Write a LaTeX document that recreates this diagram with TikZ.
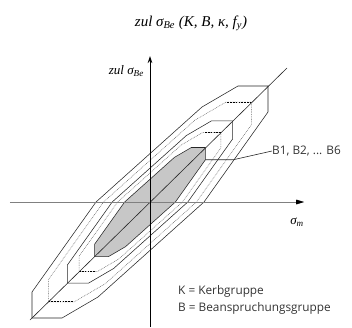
\documentclass[tikz,border=0pt]{standalone}
\usepackage{fontspec}
\setmainfont{Liberation Serif}
\newfontfamily\labelsans{Open Sans}
\usetikzlibrary{arrows.meta}
\tikzset{
  oct/.pic={\path[pic actions] (118,116) -- (118,90) -- (54,0) -- (-52,-95) -- (-88,-116) -- (-118,-116) -- (-118,-90) -- (-54,0) -- (52,95) -- (88,116) -- cycle;},
  solidline/.style={draw=black!85, line width=0.55pt, line join=miter},
  dotline/.style={draw=black!60, line width=0.5pt, dash pattern=on 0.8pt off 0.9pt},
  capline/.style={draw=black, line width=1.3pt, dash pattern=on 1.6pt off 1.2pt},
  axisline/.style={line width=0.9pt, -{Stealth[length=7pt,width=4.5pt]}},
  sanslabel/.style={font=\labelsans\fontsize{11.8}{14}\selectfont, text=black!80, inner sep=0pt},
  seriflabel/.style={font=\itshape\fontsize{13}{15}\selectfont, inner sep=0pt},
}
\begin{document}
\begin{tikzpicture}[x=1pt,y=1pt]
\useasboundingbox (-150,-125) rectangle (202,202);
% polygons
\pic[solidline] {oct};
\pic[dotline, scale=0.86] {oct};
\pic[solidline, scale=0.70] {oct};
\pic[dotline, scale=0.60] {oct};
\pic[solidline, fill=black!22, scale=0.47] {oct};
% thick caps of dotted polygons
\begin{scope}[scale=0.86]
\draw[capline] (90,116) -- (118,116);
\draw[capline] (-118,-116) -- (-90,-116);
\end{scope}
\begin{scope}[scale=0.60]
\draw[capline] (92,116) -- (118,116);
\draw[capline] (-118,-116) -- (-90,-116);
\end{scope}
% diagonal
\coordinate (d1) at (-120,-118);
\coordinate (d2) at (137,134);
\draw[black!85, line width=0.6pt] (d1) -- (d2);
% axes
\coordinate (xs) at (-140,0);
\coordinate (xe) at (154,0);
\coordinate (ys) at (0,-125);
\coordinate (ye) at (0,146);
\draw[axisline, draw=black!50] (xs) -- (xe);
\fill[black] (xe) -- ++(-8,2.4) -- ++(0,-4.8) -- cycle;
\draw[axisline, black] (ys) -- (ye);
% labels
\node[seriflabel, anchor=east] (ylab) at (-6,131) {zul σ\textsubscript{Be}};
\node[seriflabel] (xlab) at (147,-20) {σ\textsubscript{m}};
\node[seriflabel, font=\itshape\fontsize{15}{17}\selectfont] (title) at (41,179) {zul σ\textsubscript{Be} (K, B, κ, f\textsubscript{y})};
\node[sanslabel, anchor=west] (blab) at (122,51) {B1, B2, ... B6};
\coordinate (g2) at ({0.47*118},{0.47*90});
\draw[black!85, line width=0.6pt] (g2) -- ++(28,0) -- (blab.west);
\node[sanslabel, anchor=west] (klab) at (28,-89) {K = Kerbgruppe};
\node[sanslabel, anchor=west] (bgr) at (28,-106) {B = Beanspruchungsgruppe};
\end{tikzpicture}
\end{document}
